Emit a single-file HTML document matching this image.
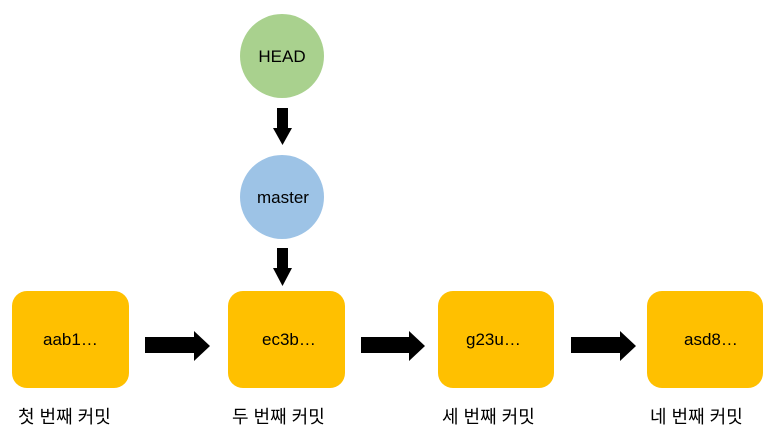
<!DOCTYPE html>
<html><head><meta charset="utf-8"><style>
html,body{margin:0;padding:0;background:#fff;}
svg text{font-family:"Liberation Sans","Noto Sans CJK KR",sans-serif;fill:#000;}
</style></head><body>
<svg width="773" height="435" viewBox="0 0 773 435" xmlns="http://www.w3.org/2000/svg">
<ellipse cx="282" cy="56" rx="42" ry="42" fill="#a9d18e"/>
<text x="282" y="62" font-size="17" text-anchor="middle">HEAD</text>
<polygon points="277,108 288,108 288,128 292,128 282.5,145 273,128 277,128" fill="#000"/>
<ellipse cx="282" cy="197" rx="42" ry="42" fill="#9dc3e6"/>
<text x="283" y="203" font-size="17" text-anchor="middle">master</text>
<polygon points="277,248 288,248 288,268 292,268 282.5,286 273,268 277,268" fill="#000"/>
<rect x="12" y="291" width="117" height="97" rx="15" fill="#ffc000"/>
<rect x="228" y="291" width="117" height="97" rx="15" fill="#ffc000"/>
<rect x="438" y="291" width="116" height="97" rx="15" fill="#ffc000"/>
<rect x="647" y="291" width="116" height="97" rx="15" fill="#ffc000"/>
<text x="43" y="345" font-size="17">aab1…</text>
<text x="262" y="345" font-size="17">ec3b…</text>
<text x="466" y="345" font-size="17">g23u…</text>
<text x="684" y="345" font-size="17">asd8…</text>
<polygon points="145,337 194,337 194,331 210,346 194,361 194,353 145,353" fill="#000"/>
<polygon points="361,337 409,337 409,331 425,346 409,361 409,353 361,353" fill="#000"/>
<polygon points="571,337 620,337 620,331 636,346 620,361 620,353 571,353" fill="#000"/>
<text x="18" y="423" font-size="18">첫 번째 커밋</text>
<text x="232" y="423" font-size="18">두 번째 커밋</text>
<text x="442" y="423" font-size="18">세 번째 커밋</text>
<text x="650" y="423" font-size="18">네 번째 커밋</text>
</svg>
</body></html>
